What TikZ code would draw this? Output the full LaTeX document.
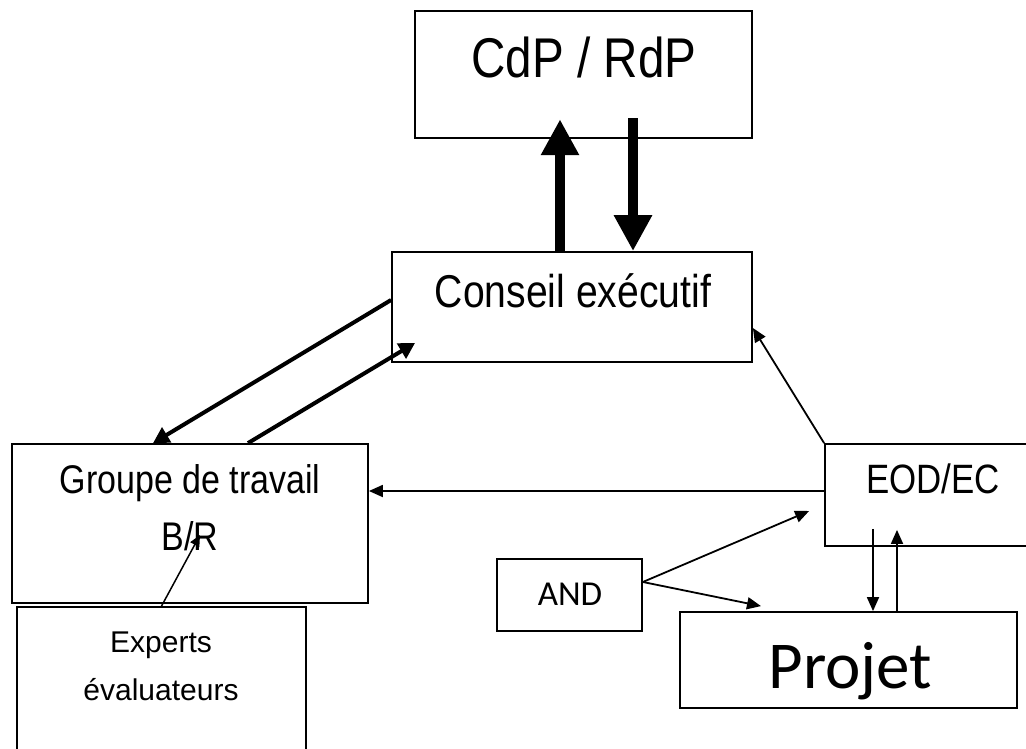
\documentclass[tikz,border=0pt]{standalone}
\usepackage{fontspec}
\setmainfont{Liberation Sans}
\newfontfamily\narrowfont[FakeStretch=0.85]{Liberation Sans}
\newfontfamily\calfont{Carlito}
\usetikzlibrary{arrows.meta,calc}

\begin{document}
\begin{tikzpicture}[x=1pt,y=-1pt,
  box/.style={draw,line width=1.8pt,inner sep=0pt},
  txt/.style={inner sep=0pt,anchor=base},
  bigarrow/.style={line width=10pt,-{Triangle[length=36pt,width=36pt]}},
  midarrow/.style={line width=4pt,-{Triangle[length=16pt,width=17pt]}},
  thinarrow/.style={line width=1.8pt,-{Triangle[length=14pt,width=12pt]}}]

  %CADRE
  \clip (0,0) rectangle (1026,749);
  \fill[white] (0,0) rectangle (1026,749);

  %BOITES
  \node[box,line width=2.5pt,minimum width=337pt,minimum height=127pt] (cdp) at (583.5,74.5) {};
  \node[box,minimum width=360pt,minimum height=110pt] (cons) at (572,307) {};
  \node[box,minimum width=356pt,minimum height=159pt] (grp) at (190,523.5) {};
  \node[box,minimum width=289pt,minimum height=163pt] (exp) at (161.5,688.5) {};
  \node[box,minimum width=220pt,minimum height=102pt] (eod) at (935,495) {};
  \node[box,minimum width=145pt,minimum height=72pt] (and) at (569.5,595) {};
  \node[box,minimum width=337pt,minimum height=96pt] (proj) at (848.5,660) {};

  %TEXTES
  \node[txt,font=\narrowfont\fontsize{56}{60}\selectfont] (cdptxt) at (584,78) {CdP / RdP};
  \node[txt,font=\narrowfont\fontsize{46}{50}\selectfont] (constxt) at (573,307) {Conseil exécutif};
  \node[txt,font=\narrowfont\fontsize{40}{44}\selectfont] (grptxt) at (190,493) {Groupe de travail};
  \node[txt,font=\narrowfont\fontsize{40}{44}\selectfont] (grptxtb) at (190,550) {B/R};
  \node[txt,font=\fontsize{30}{34}\selectfont] (exptxt) at (161,652) {Experts};
  \node[txt,font=\fontsize{30}{34}\selectfont] (exptxtb) at (161,700) {évaluateurs};
  \node[txt,font=\narrowfont\fontsize{41}{45}\selectfont] (eodtxt) at (933,493) {EOD/EC};
  \node[txt,font=\calfont\fontsize{35}{39}\selectfont] (andtxt) at (570,605) {AND};
  \node[txt,font=\calfont\fontsize{67}{71}\selectfont] (projtxt) at (850.5,688) {Projet};

  %CdP <-> Conseil
  \draw[bigarrow] ([xshift=-12pt]cons.north) -- ([xshift=-23.5pt,yshift=20pt]cdp.south);
  \draw[bigarrow] ([xshift=49.5pt,yshift=21pt]cdp.south) -- ([xshift=61pt]cons.north);

  %Conseil <-> Groupe
  \draw[midarrow] ([yshift=7pt]cons.west) -- ([xshift=-37pt]grp.north);
  \draw[midarrow] ([xshift=58pt]grp.north) -- ([xshift=24pt,yshift=20pt]cons.south west);

  %EOD/EC
  \draw[thinarrow] (eod.north west) -- ([yshift=-21pt]cons.east);
  \draw[thinarrow] ([yshift=4pt]eod.west) -- ([yshift=32.5pt]grp.east);
  \draw[thinarrow] ([xshift=-62pt,yshift=18pt]eod.south) -- ([xshift=24.5pt]proj.north);
  \draw[thinarrow] ([xshift=48.5pt]proj.north) -- ([xshift=-38pt,yshift=17pt]eod.south);

  %AND
  \draw[thinarrow] ([yshift=13pt]and.east) -- ([xshift=-15pt,yshift=-16pt]eod.west);
  \draw[thinarrow] ([yshift=13pt]and.east) -- ([xshift=-87.5pt,yshift=5pt]proj.north);

  %Experts
  \draw[line width=1.5pt,-{Triangle[length=11pt,width=10pt]}] (exp.north) -- ([xshift=10pt,yshift=-11.5pt]grp.center);

\end{tikzpicture}
\end{document}
